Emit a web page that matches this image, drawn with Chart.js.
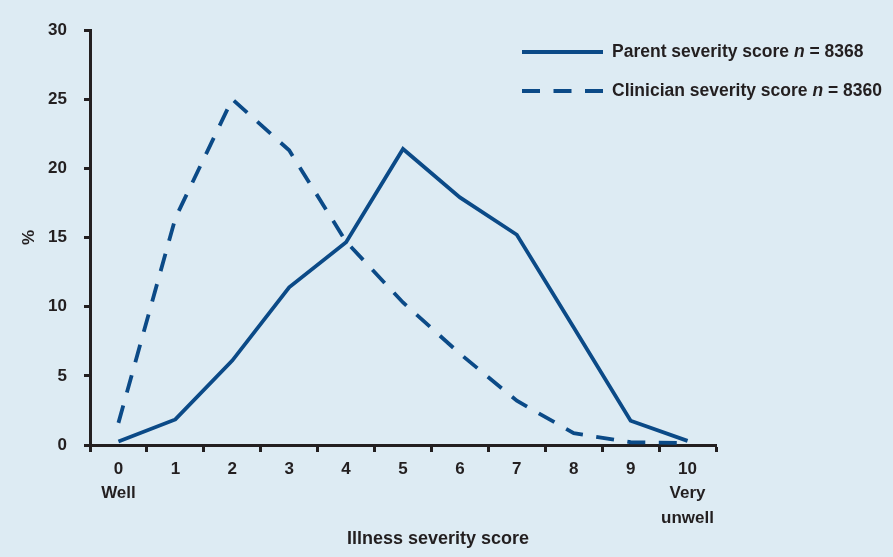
<!DOCTYPE html>
<html>
<head>
<meta charset="utf-8">
<script src="https://cdn.jsdelivr.net/npm/chart.js@4.4.1/dist/chart.umd.min.js"></script>
<style>
  html, body { margin: 0; padding: 0; background: #ddebf3; }
  canvas { display: block; }
</style>
</head>
<body>
<canvas id="chart" width="893" height="557"></canvas>
<script>
// illness severity score 0..10, two end points carry a word under the number
const scoreLabels = [['0', 'Well'], '1', '2', '3', '4', '5', '6', '7', '8', '9', ['10', 'Very', 'unwell']]

// % of children at each score
const parentPct    = [0.25, 1.85, 6.1, 11.4, 14.65, 21.4, 17.9, 15.2, 8.5, 1.75, 0.3]
const clinicianPct = [1.6, 16.4, 25.0, 21.3, 14.7, 10.3, 6.6, 3.2, 0.85, 0.2, 0.15]

const seriesNames = ['Parent severity score', 'Clinician severity score']
const sampleSizes = [8368, 8360]

const yTicks = [0, 5, 10, 15, 20, 25, 30]

const BLUE = '#0b4a87'
const INK  = '#231f20'
const FONT = '"Liberation Sans", Arial, sans-serif'
const DASH = [18, 13.5]

Chart.defaults.font.family = FONT
Chart.defaults.font.weight = 'bold'
Chart.defaults.color = INK

// legend with an italic n, drawn top right inside the plot
const sketchLegend = {
  id: 'sketchLegend',
  afterDraw(chart, args, o) {
    const ctx = chart.ctx
    chart.data.datasets.forEach((ds, i) => {
      const y = o.top + i * o.rowGap
      ctx.save()
      ctx.strokeStyle = ds.borderColor
      ctx.lineWidth = ds.borderWidth
      ctx.setLineDash(ds.borderDash || [])
      ctx.beginPath()
      ctx.moveTo(o.left, y)
      ctx.lineTo(o.left + o.lineLength, y)
      ctx.stroke()
      ctx.setLineDash([])

      ctx.fillStyle = INK
      ctx.textBaseline = 'middle'
      const parts = [
        [seriesNames[i] + ' ', 'bold'],
        ['n', 'italic bold'],
        [' = ' + sampleSizes[i], 'bold'],
      ]
      let x = o.left + o.lineLength + o.gap
      parts.forEach(([txt, style]) => {
        ctx.font = `${style} ${o.size}px ${FONT}`
        ctx.fillText(txt, x, y)
        x += ctx.measureText(txt).width
      })
      ctx.restore()
    })
  }
}

// x axis title sits a bit right of the axis centre in the source
const xTitle = {
  id: 'xTitle',
  afterDraw(chart, args, o) {
    const ctx = chart.ctx
    ctx.save()
    ctx.font = `bold ${o.size}px ${FONT}`
    ctx.fillStyle = INK
    ctx.textAlign = 'center'
    ctx.textBaseline = 'alphabetic'
    ctx.fillText(o.text, o.x, o.y)
    ctx.restore()
  }
}

new Chart(document.getElementById('chart'), {
  type: 'line',
  data: {
    labels: scoreLabels,
    datasets: [
      {
        label: `${seriesNames[0]} n = ${sampleSizes[0]}`,
        data: parentPct,
        borderColor: BLUE,
        borderWidth: 3.8,
        pointRadius: 0,
        tension: 0,
        fill: false,
      },
      {
        label: `${seriesNames[1]} n = ${sampleSizes[1]}`,
        data: clinicianPct,
        borderColor: BLUE,
        borderWidth: 3.8,
        borderDash: DASH,
        pointRadius: 0,
        tension: 0,
        fill: false,
      },
    ],
  },
  plugins: [sketchLegend, xTitle],
  options: {
    responsive: false,
    animation: false,
    layout: { padding: { top: 30, right: 177, bottom: 0, left: 0 } },
    plugins: {
      legend:  { display: false },
      tooltip: { enabled: false },
      sketchLegend: { left: 522, top: 52, rowGap: 39, lineLength: 81, gap: 9, size: 17.5 },
      xTitle: { text: 'Illness severity score', x: 438, y: 544, size: 18 },
    },
    scales: {
      x: {
        type: 'category',
        offset: true,
        afterFit: s => { s.height = 112 },
        grid: {
          offset: true,
          drawOnChartArea: false,
          drawTicks: true,
          tickLength: 7,
          tickWidth: 3,
          tickColor: INK,
        },
        border: { display: true, color: INK, width: 3 },
        ticks: {
          color: INK,
          padding: 5,
          maxRotation: 0,
          autoSkip: false,
          font: { size: 17, weight: 'bold', lineHeight: 1.44 },
        },
      },
      y: {
        min: 0,
        max: 30,
        afterFit: s => { s.width = 90 },
        afterBuildTicks: s => { s.ticks = yTicks.map(v => ({ value: v })) },
        grid: {
          drawOnChartArea: false,
          drawTicks: true,
          tickLength: 6,
          tickWidth: 3,
          tickColor: INK,
        },
        border: { display: true, color: INK, width: 3 },
        ticks: {
          color: INK,
          padding: 17,
          font: { size: 17, weight: 'bold' },
        },
        title: {
          display: true,
          text: '%',
          color: INK,
          padding: { top: 19, bottom: 0 },
          font: { size: 17, weight: 'bold' },
        },
      },
    },
  },
})
</script>
</body>
</html>
